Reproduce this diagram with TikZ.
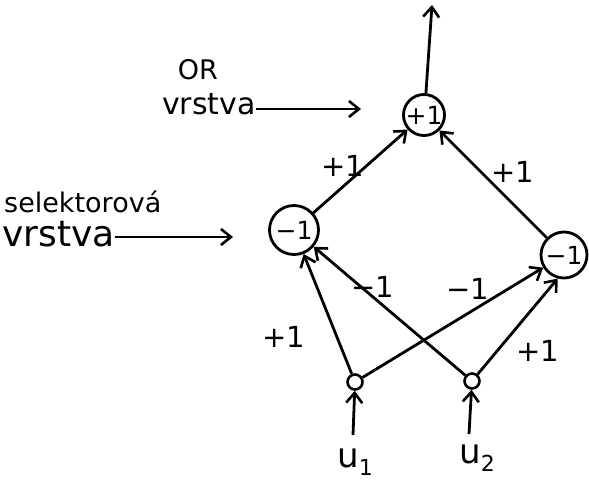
\documentclass[tikz,border=0pt]{standalone}
\usepackage{fontspec}
\setmainfont{DejaVu Sans}
\usetikzlibrary{arrows.meta}
\tikzset{
  neuron/.style={circle,draw,line width=2.8pt,inner sep=0pt,font=\fontsize{25}{25}\selectfont},
  inp/.style={circle,draw,line width=2.6pt,inner sep=0pt,minimum size=15pt},
  conn/.style={line width=2.8pt,-{Straight Barb[length=10pt,width=16pt,line width=2.6pt]}},
  wlab/.style={font=\fontsize{29}{29}\selectfont},
  txt/.style={inner sep=0pt},
}
\begin{document}
\begin{tikzpicture}[x=1pt,y=-1pt]
\useasboundingbox (0,0) rectangle (589,483);
% nodes
\node[neuron,minimum size=41pt] (OR) at (424,115) {+1};
\node[neuron,minimum size=49pt] (L) at (294,230) {−1};
\node[neuron,minimum size=46pt] (R) at (564,255) {−1};
\node[inp] (i1) at (355,382) {};
\node[inp] (i2) at (472,381) {};
% free ends
\coordinate (out) at (432,5);
\coordinate (in1) at (353,435);
\coordinate (in2) at (469,434);
\coordinate (a1) at (361,109);
\coordinate (a2) at (233,237);
% connectors
\draw[conn] (OR.85) -- (out);
\draw[conn] (L) -- (OR);
\draw[conn] (R) -- (OR);
\draw[conn] (i1) -- (L);
\draw[conn] (i2) -- (L);
\draw[conn] (i1) -- (R);
\draw[conn] (i2) -- (R.255);
\draw[conn] (in1) -- (i1);
\draw[conn] (in2) -- (i2);
% weight labels
\node[wlab] (w1) at (343,166) {+1};
\node[wlab] (w2) at (513,172) {+1};
\node[wlab] (w3) at (373,287) {−1};
\node[wlab] (w4) at (468,289) {−1};
\node[wlab] (w5) at (284,337) {+1};
\node[wlab] (w6) at (538,351) {+1};
% input labels
\node[txt,font=\fontsize{34}{34}\selectfont] (u1) at (355,462) {u\raisebox{-0.25em}{\fontsize{22}{22}\selectfont 1}};
\node[txt,font=\fontsize{34}{34}\selectfont] (u2) at (477,458) {u\raisebox{-0.25em}{\fontsize{22}{22}\selectfont 2}};
% layer labels
\node[txt,font=\fontsize{27}{27}\selectfont] (ort) at (198,70) {OR};
\node[txt,font=\fontsize{30}{30}\selectfont,anchor=base west] (orv) at (162,114) {vrstva};
\draw[conn] (orv.east |- a1) -- (a1);
\node[txt,font=\fontsize{27}{27}\selectfont,anchor=base west] (sel) at (4,212) {selektorová};
\node[txt,font=\fontsize{36}{36}\selectfont,anchor=base west] (selv) at (2,246) {vrstva};
\draw[conn] (selv.east |- a2) -- (a2);
\end{tikzpicture}
\end{document}
